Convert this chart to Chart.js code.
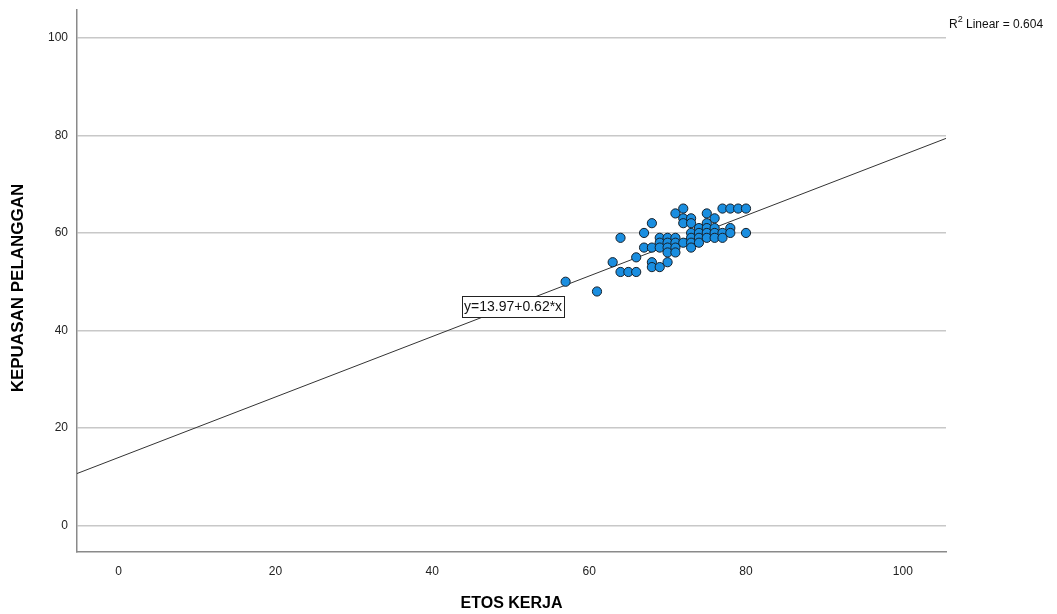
<!DOCTYPE html>
<html>
<head>
<meta charset="utf-8">
<script src="https://cdn.jsdelivr.net/npm/chart.js@4.4.1/dist/chart.umd.min.js"></script>
<style>
  html, body { margin: 0; padding: 0; background: #fff; }
  #wrap { width: 1057px; height: 614px; position: relative; }
</style>
</head>
<body>
<div id="wrap"><canvas id="c" width="1057" height="614"></canvas></div>
<script>
// ---- Data ----
const etosKerja = [57,61,63,64,64,65,66,66,67,67,68,68,68,68,69,69,69,69,70,70,70,70,70,71,71,71,71,71,72,72,72,72,73,73,73,73,73,73,74,74,74,74,75,75,75,75,75,76,76,76,76,77,77,77,78,78,78,79,80,80];
const kepuasanPelanggan = [50,48,54,59,52,52,52,55,60,57,62,57,54,53,53,59,58,57,54,59,58,57,56,59,58,57,56,64,65,63,62,58,63,62,60,59,58,57,61,60,59,58,64,62,61,60,59,63,61,60,59,65,60,59,65,61,60,65,65,60];
const xTicks = [0, 20, 40, 60, 80, 100];
const yTicks = [0, 20, 40, 60, 80, 100];
const fitIntercept = 13.97;
const fitSlope = 0.62;
const rSquared = 0.604;
const xTitle = 'ETOS KERJA';
const yTitle = 'KEPUASAN PELANGGAN';

const X_MIN = -5.3, X_MAX = 105.5, Y_MIN = -5.4, Y_MAX = 105.7;

const points = etosKerja.map((x, i) => ({ x: x, y: kepuasanPelanggan[i] }));
const fitLine = [X_MIN, X_MAX].map(x => ({ x: x, y: fitIntercept + fitSlope * x }));

const FONT = '"Liberation Sans", Arial, sans-serif';

const overlay = {
  id: 'overlay',
  afterDraw(chart) {
    const ctx = chart.ctx;
    const xs = chart.scales.x, ys = chart.scales.y;
    ctx.save();
    // Equation label box
    const eq = 'y=' + fitIntercept.toFixed(2) + '+' + fitSlope.toFixed(2) + '*x';
    ctx.font = '14px ' + FONT;
    const tw = ctx.measureText(eq).width;
    const cx = xs.getPixelForValue(50.3), cy = ys.getPixelForValue(44.9);
    const bw = tw + 4, bh = 21;
    ctx.fillStyle = '#fff';
    ctx.fillRect(Math.round(cx - bw / 2) + 0.5, Math.round(cy - bh / 2) + 0.5, Math.round(bw), bh);
    ctx.strokeStyle = '#222';
    ctx.lineWidth = 1;
    ctx.strokeRect(Math.round(cx - bw / 2) + 0.5, Math.round(cy - bh / 2) + 0.5, Math.round(bw), bh);
    ctx.fillStyle = '#111';
    ctx.textAlign = 'center';
    ctx.textBaseline = 'middle';
    ctx.fillText(eq, cx, cy + 1);

    // R² annotation
    ctx.textAlign = 'left';
    ctx.textBaseline = 'alphabetic';
    ctx.font = '12px ' + FONT;
    ctx.fillStyle = '#111';
    let px = 949;
    ctx.fillText('R', px, 28);
    px += ctx.measureText('R').width;
    ctx.font = '9px ' + FONT;
    ctx.fillText('2', px, 22);
    px += ctx.measureText('2').width;
    ctx.font = '12px ' + FONT;
    ctx.fillText(' Linear = ' + rSquared.toFixed(3), px, 28);

    // Axis titles
    ctx.font = 'bold 16px ' + FONT;
    ctx.fillStyle = '#000';
    ctx.textAlign = 'center';
    ctx.textBaseline = 'middle';
    ctx.fillText(xTitle, (xs.left + xs.right) / 2, 604);
    ctx.save();
    ctx.translate(18, 288);
    ctx.rotate(-Math.PI / 2);
    ctx.font = 'bold 17px ' + FONT;
    ctx.fillText(yTitle, 0, 0);
    ctx.restore();
    ctx.restore();
  }
};

new Chart(document.getElementById('c'), {
  type: 'scatter',
  data: {
    datasets: [
      {
        type: 'line',
        data: fitLine,
        borderColor: '#333',
        borderWidth: 1,
        pointRadius: 0,
        fill: false,
        order: 2
      },
      {
        data: points,
        backgroundColor: '#1a8ee0',
        borderColor: '#16202a',
        borderWidth: 1,
        pointRadius: 4.6,
        order: 1
      }
    ]
  },
  options: {
    responsive: false,
    animation: false,
    devicePixelRatio: 1,
    layout: { padding: { left: 0, right: 111, top: 10, bottom: 0 } },
    plugins: { legend: { display: false }, tooltip: { enabled: false } },
    scales: {
      x: {
        type: 'linear',
        min: X_MIN, max: X_MAX,
        afterBuildTicks(scale) { scale.ticks = xTicks.map(v => ({ value: v })); },
        afterFit(scale) { scale.height = 62; scale.paddingLeft = 0; scale.paddingRight = 0; },
        grid: { display: false, drawTicks: false },
        border: { display: true, color: '#8a8a8a', width: 1.5 },
        ticks: { color: '#222', font: { family: FONT, size: 12 }, padding: 12, maxRotation: 0 }
      },
      y: {
        type: 'linear',
        min: Y_MIN, max: Y_MAX,
        afterBuildTicks(scale) { scale.ticks = yTicks.map(v => ({ value: v })); },
        afterFit(scale) { scale.width = 77; scale.paddingTop = 0; scale.paddingBottom = 0; },
        grid: { color: '#c8c8c8', lineWidth: 1.5, drawTicks: false },
        border: { display: true, color: '#8a8a8a', width: 1.5 },
        ticks: { color: '#222', font: { family: FONT, size: 12 }, padding: 9 }
      }
    }
  },
  plugins: [overlay]
});
</script>
</body>
</html>
